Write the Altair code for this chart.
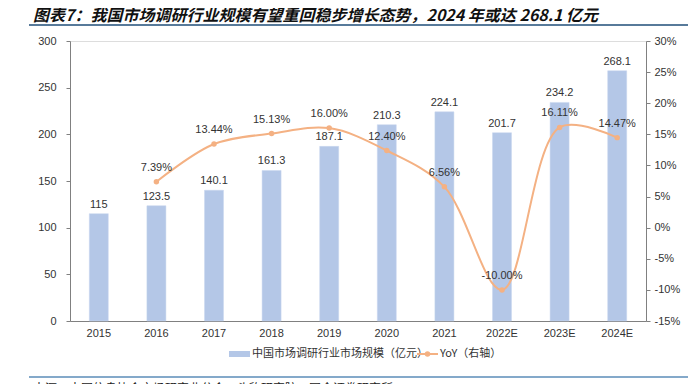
import altair as alt
import pandas as pd

years = ["2015", "2016", "2017", "2018", "2019", "2020", "2021", "2022E", "2023E", "2024E"]
market = [115, 123.5, 140.1, 161.3, 187.1, 210.3, 224.1, 201.7, 234.2, 268.1]
yoy = [None, 7.39, 13.44, 15.13, 16.00, 12.40, 6.56, -10.00, 16.11, 14.47]

title_text = "图表7：我国市场调研行业规模有望重回稳步增长态势，2024 年或达 268.1 亿元"
source_text = "来源：中国信息协会市场研究业分会，头豹研究院，国金证券研究所"
bar_name = "中国市场调研行业市场规模（亿元）"
line_name = "YoY（右轴）"

BAR_C = "#b4c7e7"
LINE_C = "#f4b183"
CJK = "Noto Sans CJK SC"
LAT = "Liberation Sans"

df = pd.DataFrame({"year": years, "market": market, "yoy": yoy})
df["yoy_label"] = [("" if v is None else f"{v:.2f}%") for v in yoy]
df["mlabel"] = [f"{v:g}" for v in market]
dfl = df.dropna(subset=["yoy"])

W, H = 576, 280

x = alt.X("year:N", sort=years, title=None,
          scale=alt.Scale(paddingInner=0.67, paddingOuter=0.335),
          axis=alt.Axis(labelAngle=0, labelFont=LAT, labelFontSize=11, labelColor="#333333",
                        domainColor="#808080", ticks=False, labelPadding=6))

yl = alt.Y("market:Q", title=None,
           scale=alt.Scale(domain=[0, 300], nice=False),
           axis=alt.Axis(values=[0, 50, 100, 150, 200, 250, 300], grid=False,
                         labelFont=LAT, labelFontSize=11, labelColor="#333333",
                         domainColor="#808080", tickColor="#808080", tickSize=4,
                         labelPadding=10))

bars = alt.Chart(df).mark_bar(color=BAR_C, size=19, stroke="#c9d7ee", strokeWidth=0.5).encode(x=x, y=yl)
bar_text = alt.Chart(df).mark_text(dy=-9, font=LAT, fontSize=11, color="#333333").encode(
    x=x, y=yl, text="mlabel:N")

left = alt.layer(bars, bar_text)

yr = alt.Y("yoy:Q", title=None, scale=alt.Scale(domain=[-15, 30], nice=False),
           axis=alt.Axis(orient="right", values=list(range(-15, 31, 5)), grid=False,
                         labelExpr="datum.value + '%'",
                         labelFont=LAT, labelFontSize=11, labelColor="#333333",
                         domainColor="#808080", tickColor="#808080", tickSize=4,
                         labelPadding=4))

line = alt.Chart(dfl).mark_line(color=LINE_C, strokeWidth=2, interpolate="catmull-rom").encode(x=x, y=yr)
pts = alt.Chart(dfl).mark_point(color=LINE_C, filled=True, size=30, opacity=1).encode(x=x, y=yr)
line_text = alt.Chart(dfl).mark_text(dy=-14, font=LAT, fontSize=11, color="#333333").encode(
    x=x, y=yr, text="yoy_label:N")

right = alt.layer(line, pts, line_text)

# decorations (page coords -> plot coords: x-70, y-41)
deco_df = pd.DataFrame({"a": [0]})
def txt(s, px, py, size, font, baseline="middle", **kw):
    return alt.Chart(deco_df).mark_text(text=s, align="left", baseline=baseline, fontSize=size,
                                        font=font, **kw).encode(x=alt.value(px - 70), y=alt.value(py - 41))

title = txt(title_text, 33, 21, 16, CJK, baseline="alphabetic", fontWeight="bold", fontStyle="italic", color="#111111")
top_rule = alt.Chart(deco_df).mark_rule(color="#1f4e79", strokeWidth=1.5).encode(
    x=alt.value(29 - 70), x2=alt.value(691 - 70), y=alt.value(25 - 41))
bot_rule = alt.Chart(deco_df).mark_rule(color="#5b8db8", strokeWidth=1.5).encode(
    x=alt.value(29 - 70), x2=alt.value(691 - 70), y=alt.value(377 - 41))
source = txt(source_text, 33, 389, 12, CJK, color="#222222")

leg_rect = alt.Chart(deco_df).mark_rect(color=BAR_C).encode(
    x=alt.value(229 - 70), x2=alt.value(250 - 70), y=alt.value(351 - 41), y2=alt.value(357 - 41))
leg_text1 = txt(bar_name, 252, 354, 11, CJK, color="#333333")
leg_line = alt.Chart(deco_df).mark_rule(color=LINE_C, strokeWidth=2).encode(
    x=alt.value(417 - 70), x2=alt.value(438 - 70), y=alt.value(354 - 41))
leg_pt = alt.Chart(deco_df).mark_point(color=LINE_C, filled=True, size=30, opacity=1).encode(
    x=alt.value(427.5 - 70), y=alt.value(354 - 41))
leg_text2 = txt(line_name, 440, 354, 11, CJK, color="#333333")

chart = alt.layer(left, right, title, top_rule, bot_rule, source,
                  leg_rect, leg_text1, leg_line, leg_pt, leg_text2).resolve_scale(
    y="independent").properties(
    width=W, height=H, autosize="none",
    padding={"left": 62, "top": 33, "right": 42, "bottom": 63}
).configure_view(stroke=None).configure(background="white")

chart.save("out.html", embed_options={"renderer": "svg", "actions": False})
